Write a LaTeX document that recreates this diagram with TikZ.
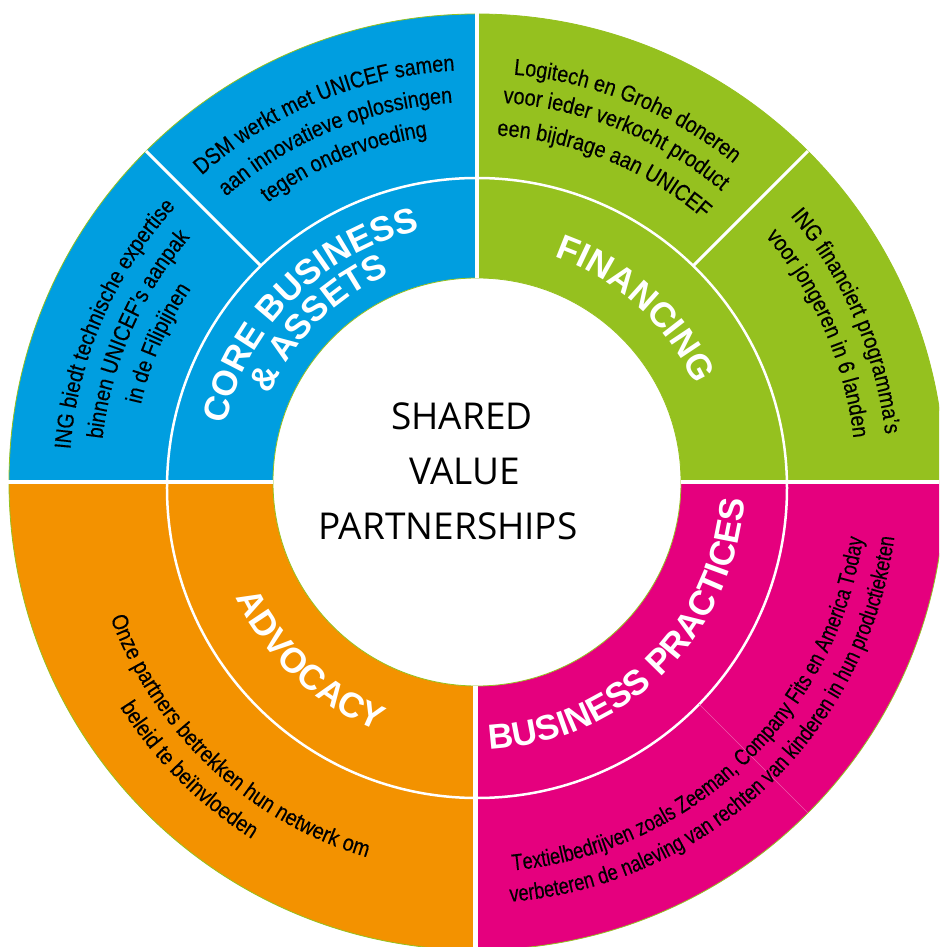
\documentclass[tikz,border=0pt]{standalone}
\usepackage{fontspec}
\usetikzlibrary{decorations.text}
\newfontfamily\labelfont{Liberation Sans}
\newfontfamily\notefont[FakeStretch=0.86, FakeBold=0.3]{Liberation Sans}
\newfontfamily\narrownotefont[FakeStretch=0.79, FakeBold=0.3]{Liberation Sans}
\newfontfamily\hubfont{Open Sans}
\newcommand\labeltype{\color{white}\labelfont\bfseries\fontsize{35}{35}\selectfont}
\newcommand\notetype{\color{black}\notefont\fontsize{23}{23}\selectfont}
\newcommand\narrownotetype{\color{black}\narrownotefont\fontsize{23}{23}\selectfont}
\definecolor{coreblue}{RGB}{0,158,224}
\definecolor{financegreen}{RGB}{149,193,31}
\definecolor{advocacyorange}{RGB}{243,146,0}
\definecolor{practicepink}{RGB}{229,0,126}

\begin{document}
\begin{tikzpicture}[x=1pt, y=1pt]
        \tikzset{ringtext/.style={decorate, decoration={text along path, text align=center, text={#1}}},
                 divider/.style={white, line width=4.5}}
        \useasboundingbox (-477,-465) rectangle (462,482);
        \clip (-477,-465) rectangle (462,482);
        % four quarters
        \fill [coreblue]       (0,0) -- (180:468) arc [start angle=180, end angle=90,   radius=468] -- cycle;
        \fill [financegreen]   (0,0) -- (90:468)  arc [start angle=90,  end angle=0,    radius=468] -- cycle;
        \fill [practicepink]   (0,0) -- (0:468)   arc [start angle=0,   end angle=-90,  radius=468] -- cycle;
        \fill [advocacyorange] (0,0) -- (-90:468) arc [start angle=-90, end angle=-180, radius=468] -- cycle;
        \draw [financegreen, line width=0.8] (0,0) circle (468);
        \fill [white] (0,0) circle (204);
        \draw [financegreen, line width=0.8] (0,0) circle (204);
        \draw [white, line width=2.5] (0,-6) circle (310);
        \draw [divider] (0,204) -- (0,470);
        \draw [divider] (-1.5,-204) -- (-1.5,-470);
        \draw [divider] (-470,0) -- (-204,0);
        \draw [divider] (204,0) -- (470,0);
        \draw [white, line width=3] (135:306) -- (135:468);
        \draw [white, line width=3] (45:306) -- (45:468);
        \draw [white!35!practicepink, line width=0.5] (-45:314) -- (-45:468);
        % ring labels
        \path [ringtext={|\labeltype|CORE BUSINESS}] (185:258) arc [start angle=185, end angle=85, radius=258];
        \path [ringtext={|\labeltype|{\&} ASSETS}]   (185:225) arc [start angle=185, end angle=85, radius=225];
        \path [ringtext={|\labeltype|FINANCING}]     (97.5:238) arc [start angle=97.5, end angle=-2.5, radius=238];
        \path [ringtext={|\labeltype|ADVOCACY}]      (177:268) arc [start angle=177, end angle=277, radius=268];
        \path [ringtext={|\labeltype|BUSINESS PRACTICES}] (-95.5:268) arc [start angle=-95.5, end angle=4.5, radius=268];
        % core business & assets
        \path [ringtext={|\notetype|DSM werkt met UNICEF samen}]  (162.5:412) arc [start angle=162.5, end angle=62.5, radius=412];
        \path [ringtext={|\notetype|aan innovatieve oplossingen}] (162.5:380) arc [start angle=162.5, end angle=62.5, radius=380];
        \path [ringtext={|\notetype|tegen ondervoeding}]          (162.5:349) arc [start angle=162.5, end angle=62.5, radius=349];
        \path [ringtext={|\notetype|ING biedt technische expertise}] (206.5:408) arc [start angle=206.5, end angle=106.5, radius=408];
        \path [ringtext={|\notetype|binnen UNICEF’s aanpak}]         (206.5:377) arc [start angle=206.5, end angle=106.5, radius=377];
        \path [ringtext={|\notetype|in de Filipijnen}]               (206.5:345) arc [start angle=206.5, end angle=106.5, radius=345];
        % financing
        \path [ringtext={|\notetype|Logitech en Grohe doneren}]   (118:409) arc [start angle=118, end angle=18, radius=409];
        \path [ringtext={|\notetype|voor ieder verkocht product}] (118:380) arc [start angle=118, end angle=18, radius=380];
        \path [ringtext={|\notetype|een bijdrage aan UNICEF}]     (118:347) arc [start angle=118, end angle=18, radius=347];
        \path [ringtext={|\notetype|ING financiert programma’s}] (73.5:411) arc [start angle=73.5, end angle=-26.5, radius=411];
        \path [ringtext={|\notetype|voor jongeren in 6 landen}]  (73.5:379) arc [start angle=73.5, end angle=-26.5, radius=379];
        % advocacy
        \path [ringtext={|\notetype|Onze partners betrekken hun netwerk om}] (172:391) arc [start angle=172, end angle=282, radius=391];
        \path [ringtext={|\notetype|beleid te beïnvloeden}]                  (170:422) arc [start angle=170, end angle=280, radius=422];
        % business practices
        \path [ringtext={|\narrownotetype|Textielbedrijven zoals Zeeman, Company Fits en America Today}] (-106.5:390) arc [start angle=-106.5, end angle=13.5, radius=390];
        \path [ringtext={|\narrownotetype|verbeteren de naleving van rechten van kinderen in hun productieketen}] (-106.5:421) arc [start angle=-106.5, end angle=13.5, radius=421];
        % centre
        \node [anchor=base, font=\hubfont\fontsize{37}{37}\selectfont] (shared)   at (-15,52)  {SHARED};
        \node [anchor=base, font=\hubfont\fontsize{37}{37}\selectfont] (value)    at (-12,-3)  {VALUE};
        \node [anchor=base, font=\hubfont\fontsize{37}{37}\selectfont] (partners) at (-29,-58) {PARTNERSHIPS};
\end{tikzpicture}
\end{document}
